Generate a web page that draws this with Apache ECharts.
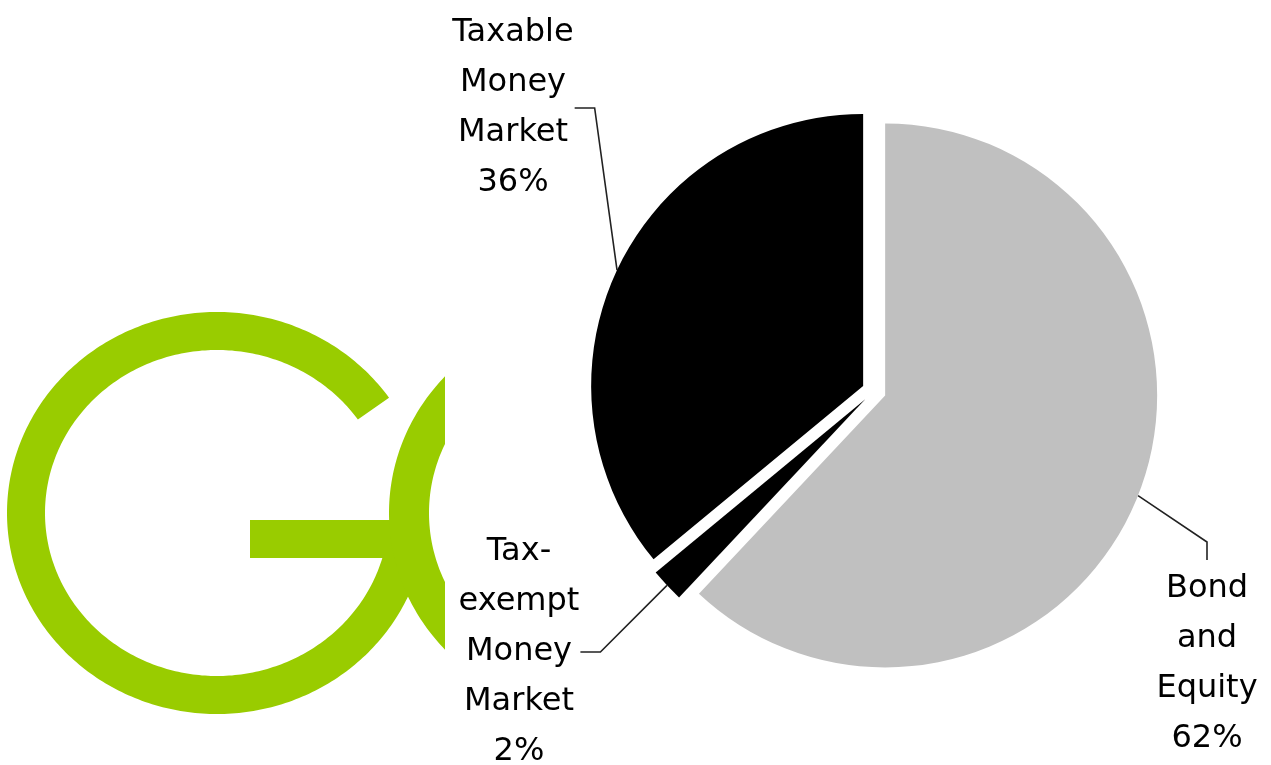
<!DOCTYPE html>
<html>
<head>
<meta charset="utf-8">
<title>Fund assets by type</title>
<script src="https://cdn.jsdelivr.net/npm/echarts@6/dist/echarts.min.js"></script>
<style>
  html, body { margin: 0; padding: 0; background: #fff; }
  #chart { width: 1271px; height: 765px; }
</style>
</head>
<body>
<div id="chart"></div>
<script>
// slices, clockwise from 12 o'clock
const categories = ['Bond and Equity', 'Tax-exempt Money Market', 'Taxable Money Market'];
// share of assets (%)
const shares = [62, 2, 36];
const sliceColors = ['#c0c0c0', '#000000', '#000000'];

const pieCenter = [874, 391];
const pieRadius = 272;
const explode = 12; // every slice is pulled out a little

// label boxes: centre x, anchor y, side the leader leaves from
const labelSpots = [
  { x: 1207, y: 564, side: 'top', len: 22 },
  { x: 519, y: 652, side: 'right', len: 20 },
  { x: 513, y: 108, side: 'right', len: 20 }
];

const total = shares.reduce((a, b) => a + b, 0);
const midAngles = [];
let acc = 0;
shares.forEach(v => {
  midAngles.push((acc + v / 2) / total * Math.PI * 2);
  acc += v;
});

function sliceCenter(i) {
  return [
    pieCenter[0] + explode * Math.sin(midAngles[i]),
    pieCenter[1] - explode * Math.cos(midAngles[i])
  ];
}

function labelText(name, pct) {
  return name.replace('-', '-\n').split(' ').join('\n') + '\n' + pct + '%';
}

// one pie per slice so each one can sit on its own exploded centre
const series = categories.map((_, k) => {
  const c = sliceCenter(k);
  return {
    type: 'pie',
    center: c,
    radius: pieRadius,
    startAngle: 90,
    clockwise: true,
    avoidLabelOverlap: false,
    silent: true,
    animation: false,
    label: {
      show: true,
      formatter: p => labelText(p.name, Math.round(p.percent)),
      fontFamily: 'DejaVu Sans',
      fontSize: 32,
      lineHeight: 50,
      color: '#000'
    },
    labelLine: {
      show: true,
      length: 10,
      length2: 10,
      lineStyle: { color: '#222', width: 1.6 }
    },
    labelLayout: params => {
      const i = params.dataIndex;
      const s = labelSpots[i];
      const m = midAngles[i];
      const arc = [c[0] + pieRadius * Math.sin(m), c[1] - pieRadius * Math.cos(m)];
      if (s.side === 'top') {
        return {
          x: s.x, y: s.y, align: 'center', verticalAlign: 'top',
          labelLinePoints: [arc, [s.x, s.y - s.len], [s.x, s.y - 4]]
        };
      }
      const right = s.x + params.labelRect.width / 2 + 1;
      return {
        x: s.x, y: s.y, align: 'center', verticalAlign: 'middle',
        labelLinePoints: [arc, [right + s.len, s.y], [right, s.y]]
      };
    },
    data: categories.map((name, i) => ({
      name: name,
      value: shares[i],
      itemStyle: { color: i === k ? sliceColors[i] : 'rgba(0,0,0,0)' },
      label: { show: i === k },
      labelLine: { show: i === k }
    }))
  };
});

// green "GO" logo stamped over the left side
const logoGreen = '#99cc00';
function arcPts(cx, cy, rx, ry, t0, t1) {
  const pts = [];
  const n = Math.max(2, Math.ceil(Math.abs(t1 - t0)));
  for (let j = 0; j <= n; j++) {
    const t = (t0 + (t1 - t0) * j / n) * Math.PI / 180;
    pts.push([cx + rx * Math.cos(t), cy + ry * Math.sin(t)]);
  }
  return pts;
}
const gC = [217, 513], oC = [599, 513];
const outer = [210, 201], inner = [170, 163];
const gStart = 8, gEnd = 325;
const gPts = arcPts(gC[0], gC[1], outer[0], outer[1], gStart, gEnd)
  .concat(arcPts(gC[0], gC[1], inner[0] + 2, inner[1], gEnd, gStart));
const clipX = 445;
const tOut = Math.acos((clipX - oC[0]) / outer[0]) * 180 / Math.PI;
const tIn = Math.acos((clipX - oC[0]) / inner[0]) * 180 / Math.PI;
const oPts = arcPts(oC[0], oC[1], outer[0], outer[1], tOut, 360 - tOut)
  .concat(arcPts(oC[0], oC[1], inner[0], inner[1], 360 - tIn, tIn));

const chart = echarts.init(document.getElementById('chart'));
chart.setOption({
  backgroundColor: '#ffffff',
  animation: false,
  graphic: [
    { type: 'polygon', silent: true, shape: { points: gPts }, style: { fill: logoGreen } },
    { type: 'rect', silent: true, shape: { x: 250, y: 520, width: 142, height: 38 }, style: { fill: logoGreen } },
    { type: 'polygon', silent: true, shape: { points: oPts }, style: { fill: logoGreen } }
  ],
  series: series
});
</script>
</body>
</html>
